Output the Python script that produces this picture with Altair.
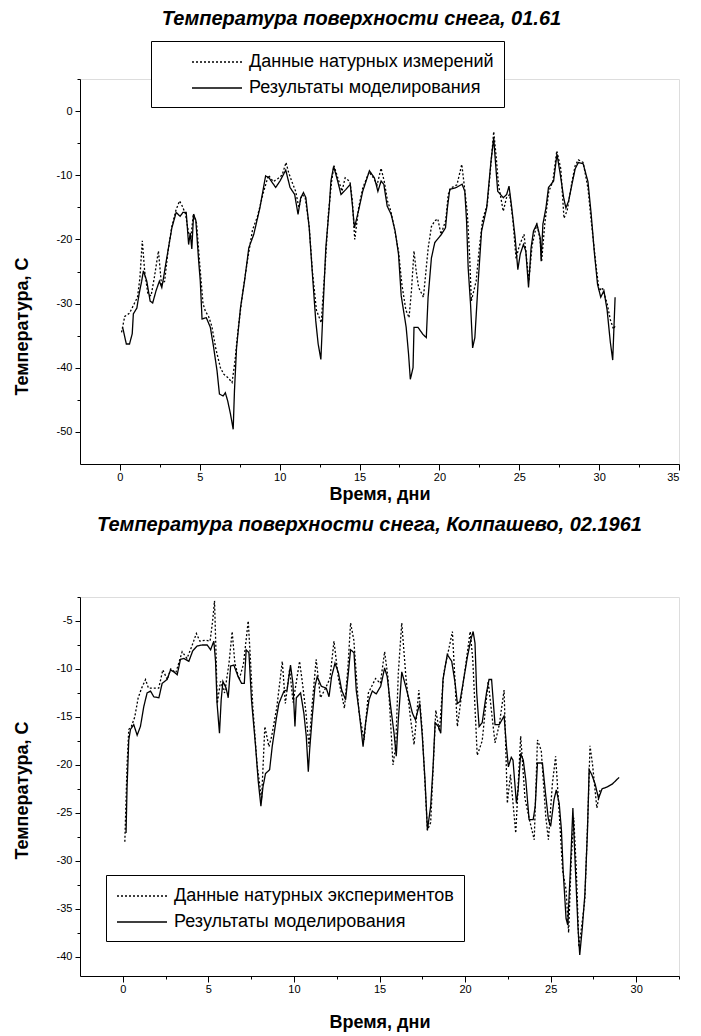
import altair as alt
import pandas as pd

OBS1 = "Данные натурных измерений"
OBS2 = "Данные натурных экспериментов"
MOD = "Результаты моделирования"
TITLE1 = "Температура поверхности снега, 01.61"
TITLE2 = "Температура поверхности снега, Колпашево, 02.1961"
XTITLE = "Время, дни"
YTITLE = "Температура, С"

# ---- panel 1 : model ----
t_mod1 = [0.17, 0.4, 0.6, 0.77, 0.84, 1.06, 1.2, 1.36, 1.47, 1.68, 1.89, 2.05, 2.26, 2.47, 2.62, 2.73, 2.83,
          3.04, 3.25, 3.52, 3.77, 3.94, 4.15, 4.3, 4.4, 4.5, 4.61, 4.75, 4.93, 5.03, 5.14, 5.41, 5.66, 5.87,
          6.08, 6.23, 6.46, 6.6, 6.75, 6.92, 7.09, 7.17, 7.3, 7.55, 7.8, 8.07, 8.38, 8.76, 9.12, 9.33, 9.75,
          10.02, 10.38, 10.65, 10.94, 11.15, 11.32, 11.49, 11.64, 11.85, 12.05, 12.26, 12.41, 12.58, 12.72,
          12.89, 13.1, 13.21, 13.38, 13.63, 13.84, 14.15, 14.42, 14.57, 14.68, 14.93, 15.2, 15.62, 15.93,
          16.15, 16.35, 16.52, 16.73, 16.98, 17.23, 17.44, 17.61, 17.92, 18.07, 18.18, 18.35, 18.41, 18.66,
          18.97, 19.18, 19.29, 19.5, 19.71, 20.13, 20.38, 20.5, 20.65, 21.07, 21.42, 21.59, 21.7, 21.8, 21.95,
          22.08, 22.22, 22.43, 22.64, 22.96, 23.23, 23.4, 23.52, 23.65, 24.0, 24.21, 24.36, 24.53, 24.74,
          24.91, 25.06, 25.26, 25.41, 25.58, 25.74, 25.89, 26.1, 26.31, 26.37, 26.48, 26.67, 26.83, 27.15,
          27.36, 27.57, 27.78, 27.92, 28.09, 28.3, 28.5, 28.7, 29.0, 29.3, 29.5, 29.7, 29.9, 30.1, 30.3, 30.5,
          30.7, 30.85, 31.0]
T_mod1 = [-33.7, -36.3, -36.3, -34.7, -31.6, -30.7, -28.5, -26.5, -24.9, -26.5, -29.6, -29.9, -28, -26.5,
          -27.5, -26, -24.4, -21.3, -18.2, -15.8, -16.4, -15.8, -15.8, -20.8, -19, -21.5, -16.1, -17, -23.4,
          -26.5, -32.4, -32.2, -33.7, -36.9, -40.5, -44.1, -44.4, -43.9, -45.2, -47.2, -49.6, -43.6, -36.9,
          -30.6, -26.5, -21.3, -19.2, -15.1, -10.1, -10.4, -11.9, -10.9, -9.2, -11.9, -13, -16.1, -13.5,
          -12.7, -13.5, -18.2, -25.4, -32.7, -36.3, -38.7, -30.6, -21.3, -15.1, -10.9, -8.6, -10.9, -13,
          -12.2, -11.4, -15.1, -18.2, -15.6, -12.5, -9.3, -10.4, -12.5, -10.9, -11.4, -14.8, -16.1, -18.7,
          -22.3, -28.8, -33.7, -37.9, -41.8, -40, -33.7, -33.7, -34.8, -35.3, -29.1, -22.9, -20.5, -19.2,
          -18.2, -15.1, -12.2, -11.9, -11.4, -12.5, -17.1, -24.4, -30.1, -36.9, -35.3, -26.5, -18.7, -15.1,
          -7.8, -4.2, -8.3, -12.5, -13.5, -13, -11.7, -15.1, -19.7, -24.7, -22.3, -20.8, -21.8, -27.5, -21.3,
          -18.7, -17.6, -19.7, -23.4, -17.6, -15.1, -11.9, -10.9, -6.7, -9.9, -13.5, -15.1, -14, -11.4, -9,
          -8, -8.2, -11, -16, -22, -27, -29, -28, -31, -36, -38.8, -29]

# ---- panel 1 : measurements ----
t_obs1 = [0.1, 0.3, 0.6, 0.9, 1.1, 1.25, 1.4, 1.55, 1.75, 1.95, 2.15, 2.41, 2.6, 2.8, 3.0, 3.25, 3.5, 3.73,
          3.9, 4.1, 4.3, 4.45, 4.6, 4.8, 5.0, 5.2, 5.35, 5.55, 5.75, 6.0, 6.29, 6.5, 6.75, 7.02, 7.2, 7.4, 7.7,
          8.0, 8.3, 8.6, 9.0, 9.3, 9.6, 9.9, 10.15, 10.4, 10.55, 10.75, 11.0, 11.2, 11.4, 11.6, 11.85, 12.05,
          12.3, 12.6, 12.85, 13.05, 13.25, 13.4, 13.65, 13.9, 14.1, 14.4, 14.55, 14.7, 14.95, 15.2, 15.6, 15.9,
          16.1, 16.35, 16.55, 16.75, 16.95, 17.2, 17.45, 17.65, 17.9, 18.1, 18.25, 18.41, 18.55, 18.7, 19.0,
          19.3, 19.5, 19.71, 19.9, 20.1, 20.4, 20.55, 20.7, 21.1, 21.4, 21.6, 21.75, 21.9, 22.0, 22.3, 22.5,
          22.7, 23.0, 23.2, 23.4, 23.55, 23.7, 24.0, 24.2, 24.4, 24.6, 24.8, 25.0, 25.3, 25.6, 25.8, 26.1,
          26.3, 26.4, 26.6, 26.85, 27.1, 27.35, 27.6, 27.8, 28.0, 28.3, 28.5, 28.7, 29.0, 29.3, 29.5, 29.8,
          30.0, 30.2, 30.5, 30.7, 30.9, 31.0]
T_obs1 = [-34.5, -32, -31.5, -30, -29, -26, -20.2, -25, -28.5, -28.8, -26, -21.8, -27, -26.5, -22, -18,
          -15.5, -14, -14.8, -16, -19, -19.5, -16, -17.5, -24, -30, -31.2, -32, -33.5, -37, -40, -41, -41.5,
          -42.3, -39, -34, -28, -23, -18.5, -16.5, -12.5, -10, -11, -10.5, -10, -8, -9.5, -10.9, -12.5, -15,
          -13, -13.5, -18, -25, -31, -33, -24, -16, -11, -8.5, -10.5, -12.5, -10.4, -11, -14, -20, -15, -12,
          -9.5, -10.5, -11.5, -8.9, -11, -14, -15.5, -18.5, -22, -27, -31, -32.2, -28, -21.8, -25, -27.5,
          -29, -21.3, -18, -17.1, -16.8, -19.2, -17, -13, -12, -11.5, -8.3, -12.5, -16, -23, -29.6, -26.5,
          -21.3, -17, -14.5, -9, -3.2, -7, -11.5, -15.6, -13.5, -13, -17, -23, -21, -19.2, -26.5, -21, -17.5,
          -20, -23.4, -17.5, -12.5, -11, -6.2, -9, -16.7, -15.5, -11, -8.5, -7.6, -8, -12, -17, -24, -28,
          -27.5, -30, -32.5, -34, -33.5]

# ---- panel 2 : model ----
t_mod2 = [0.19, 0.25, 0.35, 0.45, 0.64, 0.84, 1.03, 1.23, 1.42, 1.62, 1.81, 2.11, 2.3, 2.59, 2.79, 2.98,
          3.18, 3.37, 3.57, 3.86, 4.09, 4.35, 4.64, 4.93, 5.13, 5.32, 5.42, 5.51, 5.65, 5.75, 5.85, 6.04,
          6.16, 6.3, 6.49, 6.74, 6.94, 7.1, 7.21, 7.37, 7.52, 7.76, 7.91, 8.07, 8.19, 8.34, 8.58, 8.73, 8.96,
          9.12, 9.42, 9.6, 9.8, 9.94, 10.06, 10.14, 10.39, 10.58, 10.72, 10.84, 10.92, 11.07, 11.23, 11.36,
          11.6, 11.89, 12.05, 12.2, 12.4, 12.6, 12.79, 13.02, 13.18, 13.31, 13.51, 13.64, 13.8, 14.04, 14.19,
          14.39, 14.58, 14.81, 15.07, 15.3, 15.45, 15.65, 15.85, 15.98, 16.1, 16.3, 16.53, 16.73, 16.92, 17.1,
          17.35, 17.5, 17.66, 17.8, 17.99, 18.13, 18.25, 18.44, 18.58, 18.71, 18.96, 19.22, 19.42, 19.55,
          19.7, 19.88, 20.14, 20.33, 20.47, 20.58, 20.68, 20.82, 21.0, 21.25, 21.4, 21.55, 21.75, 22.0, 22.28,
          22.42, 22.53, 22.7, 22.8, 23.0, 23.1, 23.25, 23.4, 23.55, 23.74, 23.98, 24.1, 24.23, 24.52, 24.72,
          24.87, 25.0, 25.2, 25.33, 25.5, 25.63, 25.73, 25.9, 26.0, 26.15, 26.3, 26.45, 26.6, 26.7, 26.85,
          27.0, 27.15, 27.25, 27.4, 27.6, 27.8, 28.0, 28.3, 28.6, 29.0]
T_mod2 = [-27.1, -22.3, -17.4, -16.3, -15.8, -16.9, -16, -13.9, -12.5, -12.3, -12.9, -13, -11.5, -11.1,
          -10.1, -10.3, -10.6, -9, -8.9, -9.2, -8.1, -7.6, -7.5, -7.5, -8, -7.1, -9.2, -13.6, -16.7, -13.2,
          -11.3, -12, -13, -9.7, -9.6, -10.8, -11.5, -11.5, -8, -8.3, -13.2, -18.1, -21.6, -24.3, -22.3,
          -20.9, -20.5, -18.1, -15.3, -13.6, -12.3, -12.2, -9.6, -11.5, -16, -13, -12.5, -14.6, -17, -20.7,
          -18.4, -15, -11.8, -10.8, -11.8, -12, -12.9, -10.8, -9.4, -10.4, -12.2, -13.2, -10.4, -8, -8.3,
          -12.2, -14.3, -18.1, -15.6, -13.2, -12.3, -12.6, -11.8, -9.9, -10.8, -13.9, -16.7, -19.1, -15.3,
          -10.3, -11.8, -13.2, -14.6, -15.3, -13.6, -17, -21.6, -26.8, -24.3, -20.2, -15.6, -16, -16.7,
          -11.1, -8.5, -9.2, -11.5, -13.6, -13.4, -11.5, -8.7, -7, -6.1, -7.3, -12.5, -16, -15.6, -12.5,
          -11.1, -11.1, -15.8, -15.8, -14.9, -18.1, -20.2, -19.2, -19.5, -24, -22.6, -18.8, -19.5, -21.6,
          -25.7, -25.7, -24.3, -19.8, -19.8, -23.3, -25.7, -26.4, -23.6, -22.6, -24, -26.8, -31, -36, -36.7,
          -31, -24.5, -31, -37, -39.8, -37, -33.5, -27, -20.5, -21, -22, -23.5, -22.5, -22.3, -22, -21.3]

# ---- panel 2 : experiments ----
t_obs2 = [0.12, 0.25, 0.35, 0.5, 0.7, 0.9, 1.1, 1.33, 1.5, 1.8, 2.1, 2.34, 2.6, 2.8, 3.1, 3.47, 3.75, 4.0,
          4.3, 4.5, 4.84, 5.1, 5.25, 5.36, 5.45, 5.52, 5.71, 5.95, 6.2, 6.39, 6.55, 6.8, 7.05, 7.33, 7.45,
          7.6, 7.85, 8.11, 8.3, 8.54, 8.7, 9.0, 9.32, 9.5, 9.75, 9.95, 10.33, 10.5, 10.7, 10.88, 11.05, 11.3,
          11.55, 11.85, 12.1, 12.34, 12.6, 12.95, 13.15, 13.31, 13.5, 13.8, 14.1, 14.35, 14.77, 15.05, 15.3,
          15.5, 15.79, 15.95, 16.1, 16.3, 16.55, 16.8, 17.02, 17.3, 17.5, 17.8, 17.99, 18.29, 18.5, 18.75,
          19.26, 19.55, 19.85, 20.3, 20.45, 20.71, 21.0, 21.35, 21.75, 22.0, 22.28, 22.47, 22.65, 22.96,
          23.25, 23.5, 23.8, 24.04, 24.23, 24.45, 24.72, 24.87, 25.1, 25.29, 25.5, 25.7, 25.9, 26.05, 26.2,
          26.35, 26.5, 26.65, 26.8, 27.0, 27.2, 27.3, 27.45, 27.7, 27.9]
T_obs2 = [-28, -20, -16.3, -16, -15, -13, -12, -11.1, -12, -12, -12, -10.1, -11.1, -10, -10.4, -8.2, -8.9,
          -7.8, -6.3, -7.1, -7, -7.1, -5, -2.9, -8.5, -13.6, -11.3, -12.5, -9.5, -6.1, -9.4, -11.1, -9.5, -5,
          -8.7, -14, -20, -23.6, -16, -18.1, -17, -14, -9.2, -13.6, -10, -13.5, -9.2, -11.5, -14.5, -18.1,
          -14, -9, -13, -12, -11, -7.1, -11, -14.1, -10, -5.2, -7, -14.5, -17.4, -12.5, -11, -11.5, -8.2, -11,
          -20, -18, -10.4, -5.2, -11, -15, -17.9, -12.2, -16.5, -26.8, -26, -14.3, -16.5, -10.5, -6.1, -16,
          -12, -6.1, -9, -19, -17.5, -11.3, -17.7, -15.8, -12.2, -24, -21, -27.1, -17, -23.5, -26, -27.8,
          -17.4, -18.5, -25.5, -27.8, -22, -19.1, -25, -31, -33, -37.5, -30, -25.5, -31, -39, -37, -34, -24,
          -18, -20, -24.5, -22.5]

# ---- axes (major every "step", minor halfway) ----
x_dom1 = [-2.5, 35]
x_ticks1 = [0, 2.5, 5, 7.5, 10, 12.5, 15, 17.5, 20, 22.5, 25, 27.5, 30, 32.5, 35]
y_dom1 = [-55, 5]
y_ticks1 = [5, 0, -5, -10, -15, -20, -25, -30, -35, -40, -45, -50]

x_dom2 = [-2.5, 32.5]
x_ticks2 = [0, 2.5, 5, 7.5, 10, 12.5, 15, 17.5, 20, 22.5, 25, 27.5, 30, 32.5]
y_dom2 = [-42, -2.5]
y_ticks2 = [-2.5, -5, -7.5, -10, -12.5, -15, -17.5, -20, -22.5, -25, -27.5, -30, -32.5, -35, -37.5, -40]

FONT = "Liberation Sans"


def ax(values, step, tick_major, title, **kw):
    test = f"datum.value % {step} == 0"
    return alt.Axis(
        values=values, title=title,
        tickSize={"condition": {"test": test, "value": tick_major}, "value": 3},
        labelExpr=f"{test} ? '' + datum.value : ''",
        labelFont=FONT, labelFontSize=11, labelColor="black", tickColor="black",
        domainColor="black", grid=False, tickWidth=1, domainWidth=1,
        titleFont=FONT, titleFontSize=18, titleFontWeight="bold", titleColor="black",
        **kw,
    )


def panel(t_obs, T_obs, t_mod, T_mod, obs_label, title, title_dx, title_off, xdom, xticks, xstep,
          ydom, yticks, ystep, height, ytitle_y, xtitle_pad, leg_x, leg_y, sym_off):
    df = pd.concat([
        pd.DataFrame({"t": t_obs, "T": T_obs, "s": obs_label}),
        pd.DataFrame({"t": t_mod, "T": T_mod, "s": MOD}),
    ], ignore_index=True)
    xs = alt.Scale(domain=xdom, nice=False, zero=False)
    ys = alt.Scale(domain=ydom, nice=False, zero=False)
    return alt.Chart(df).mark_line(color="black", strokeWidth=1.3, clip=True).encode(
        x=alt.X("t:Q", scale=xs, axis=ax(xticks, xstep, 6, XTITLE, labelPadding=1,
                                          titlePadding=xtitle_pad)),
        y=alt.Y("T:Q", scale=ys, axis=ax(yticks, ystep, 5, YTITLE, labelPadding=3,
                                          titleX=-49, titleY=ytitle_y)),
        strokeDash=alt.StrokeDash(
            "s:N",
            scale=alt.Scale(domain=[obs_label, MOD], range=[[2, 2], [1, 0]]),
            legend=alt.Legend(title=None, orient="none", legendX=leg_x, legendY=leg_y,
                              direction="vertical", strokeColor="black", fillColor="white",
                              padding=10, labelFont=FONT, labelFontSize=18, labelColor="black",
                              labelLimit=600, symbolType="M-2.5,0H2.5", symbolSize=400,
                              symbolStrokeWidth=1.3, symbolStrokeColor="black", rowPadding=6,
                              symbolOffset=sym_off, labelOffset=21),
        ),
        order=alt.Order("t:Q"),
    ).properties(
        width=599, height=height,
        title=alt.TitleParams(title, font=FONT, fontSize=20, fontStyle="italic", fontWeight="bold",
                              color="black", anchor="middle", dx=title_dx, offset=title_off),
    )


top = panel(t_obs1, T_obs1, t_mod1, T_mod1, OBS1, TITLE1, -18, 12, x_dom1, x_ticks1, 5,
            y_dom1, y_ticks1, 10, 385, 247, 3, 71, -38, 45)
bottom = panel(t_obs2, T_obs2, t_mod2, T_mod2, OBS2, TITLE2, -10, 62, x_dom2, x_ticks2, 5,
               y_dom2, y_ticks2, 5, 379, 193, 19, 26, 278, 15)

chart = alt.vconcat(top, bottom, spacing=10).resolve_scale(
    strokeDash="independent"
).resolve_legend(strokeDash="independent").properties(
    padding={"left": 4, "top": 0, "right": 5, "bottom": 0}
).configure_view(stroke=None).configure(background="white")

chart.save("out.html", embed_options={"renderer": "svg", "actions": False})
